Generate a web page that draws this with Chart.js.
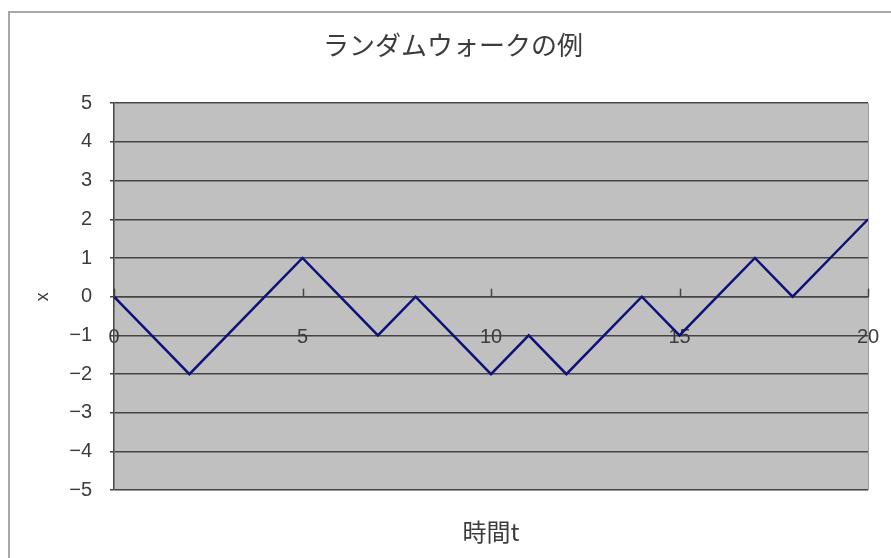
<!DOCTYPE html>
<html lang="ja">
<head>
<meta charset="utf-8">
<script src="https://cdn.jsdelivr.net/npm/chart.js@4/dist/chart.umd.min.js"></script>
<style>
  html, body { margin: 0; padding: 0; background: #ffffff; overflow: hidden; width: 891px; height: 558px; }
  #frame {
    position: absolute; left: 8px; top: 11px;
    width: 886px; height: 560px;
    border: 2px solid #a8a8a8;
    background: #ffffff;
  }
  #frame canvas { display: block; }
</style>
</head>
<body>
<div id="frame"><canvas id="walk" width="886" height="560"></canvas></div>
<script>
// Random walk: time step t and position x
const timeSteps = [0, 1, 2, 3, 4, 5, 6, 7, 8, 9, 10, 11, 12, 13, 14, 15, 16, 17, 18, 19, 20];
const walkValues = [0, -1, -2, -1, 0, 1, 0, -1, 0, -1, -2, -1, -2, -1, 0, -1, 0, 1, 0, 1, 2];

const chartTitle = 'ランダムウォークの例';
const xAxisTitle = '時間t';
const yAxisTitle = 'x';

const textColor = '#3c3c3c';
const gridColor = '#444444';
const latinFont = '"Liberation Sans", Arial, "Noto Sans CJK JP", sans-serif';
const cjkFont = '"Noto Sans CJK JP", "Liberation Sans", sans-serif';

const fmtNum = v => (v < 0 ? '\u2212' + Math.abs(v) : String(v));

// Grey plot area, light right edge, and upward tick marks on the zero axis
const plotDecor = {
  id: 'plotDecor',
  beforeDraw(chart) {
    const { ctx, chartArea: a } = chart;
    ctx.save();
    ctx.fillStyle = '#c0c0c0';
    ctx.fillRect(a.left, a.top, a.right - a.left, a.bottom - a.top);
    ctx.strokeStyle = '#9a9a9a';
    ctx.lineWidth = 1;
    ctx.beginPath();
    ctx.moveTo(a.right + 0.5, a.top);
    ctx.lineTo(a.right + 0.5, a.bottom);
    ctx.stroke();
    ctx.restore();
  },
  afterDatasetsDraw(chart) {
    const { ctx, scales: { x, y } } = chart;
    const y0 = y.getPixelForValue(0);
    ctx.save();
    ctx.strokeStyle = gridColor;
    ctx.lineWidth = 1.5;
    x.ticks.forEach(t => {
      const px = Math.round(x.getPixelForValue(t.value)) + 0.5;
      ctx.beginPath();
      ctx.moveTo(px, y0 - 8);
      ctx.lineTo(px, y0);
      ctx.stroke();
    });
    ctx.restore();
  }
};

new Chart(document.getElementById('walk'), {
  type: 'line',
  data: {
    datasets: [{
      data: timeSteps.map((t, i) => ({ x: t, y: walkValues[i] })),
      borderColor: '#10107a',
      borderWidth: 2.5,
      pointRadius: 0,
      tension: 0,
      fill: false
    }]
  },
  options: {
    responsive: false,
    animation: false,
    events: [],
    layout: { padding: 0 },
    plugins: {
      legend: { display: false },
      tooltip: { enabled: false },
      title: {
        display: true,
        text: chartTitle,
        color: textColor,
        font: { family: cjkFont, size: 26, weight: 'normal' },
        padding: { top: 17, bottom: 42 }
      },
      subtitle: {
        display: true,
        position: 'bottom',
        fullSize: false,
        text: xAxisTitle,
        color: textColor,
        font: { family: cjkFont, size: 24, weight: 'normal' },
        padding: { top: 27, bottom: 27 }
      }
    },
    scales: {
      x: {
        type: 'linear',
        position: { y: 0 },
        min: 0,
        max: 20,
        ticks: {
          stepSize: 5,
          color: textColor,
          font: { family: latinFont, size: 20 },
          padding: 0,
          maxRotation: 0,
          callback: fmtNum
        },
        // invisible tick length keeps the labels clear of the zero line
        grid: { drawOnChartArea: false, drawTicks: true, tickLength: 29, tickColor: 'rgba(0,0,0,0)' },
        border: { display: true, color: gridColor, width: 1.5 }
      },
      y: {
        type: 'linear',
        position: 'left',
        min: -5,
        max: 5,
        afterFit(scale) { scale.width = 104; },
        ticks: {
          stepSize: 1,
          color: textColor,
          font: { family: latinFont, size: 20 },
          padding: 18,
          callback: fmtNum
        },
        grid: { color: gridColor, lineWidth: 1.5, tickLength: 4, tickColor: gridColor },
        border: { display: true, color: gridColor, width: 1.5 },
        title: {
          display: true,
          text: yAxisTitle,
          color: textColor,
          font: { family: latinFont, size: 18 },
          padding: { top: 22, bottom: 0 }
        }
      },
      // empty right-hand margin of the plot
      yMargin: {
        type: 'linear',
        position: 'right',
        min: -5,
        max: 5,
        afterFit(scale) { scale.width = 28; },
        ticks: { display: false },
        grid: { display: false },
        border: { display: false }
      }
    }
  },
  plugins: [plotDecor]
});
</script>
</body>
</html>
